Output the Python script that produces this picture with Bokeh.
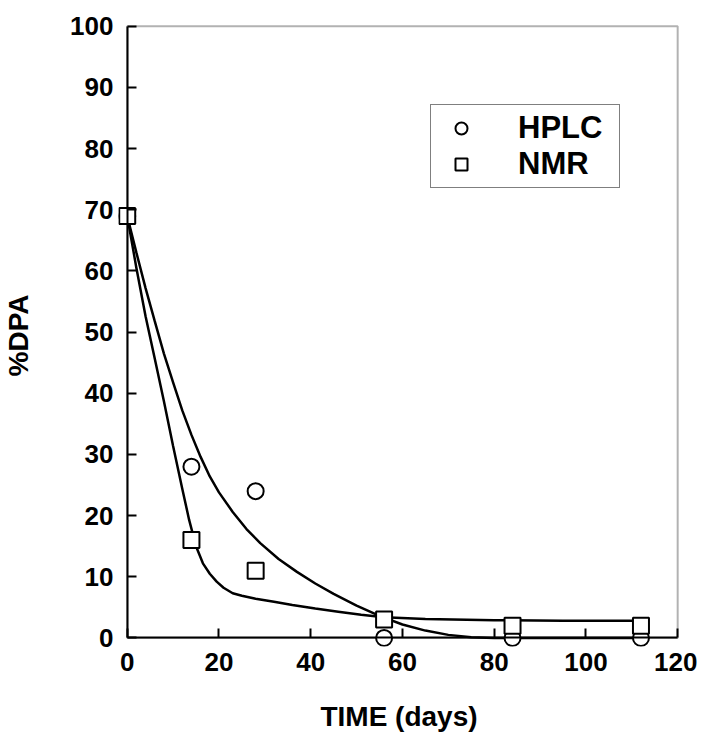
from bokeh.plotting import figure
from bokeh.models import Range1d, Legend, LegendItem, FixedTicker, BoxAnnotation, LinearAxis
from bokeh.embed import file_html
from bokeh.resources import INLINE

# Measured data points
time_days = [0, 14, 28, 56, 84, 112]
hplc_pct = [69, 28, 24, 0, 0, 0]
nmr_pct = [69, 16, 11, 3, 2, 2]

# Fitted curves
hplc_fit_x = [0, 2, 4, 6, 8, 10, 12, 14, 16, 18, 20, 23, 26, 29, 33, 37, 41, 45, 50, 55, 60, 65, 70, 75, 80, 112]
hplc_fit_y = [69, 63, 57.2, 51.8, 46.5, 41.8, 37.2, 33.2, 29.6, 26.4, 23.8, 20.6, 17.8, 15.5, 12.9, 10.8,
              8.9, 7.2, 5.3, 3.6, 2.2, 1.2, 0.5, 0.1, 0, 0]
nmr_fit_x = [0, 2, 4, 6, 8, 10, 12, 13.5, 15, 16.5, 18, 19.5, 21, 23, 25, 28, 32, 36, 41, 46, 51, 56, 65, 80, 95, 112]
nmr_fit_y = [69, 60.5, 52.6, 45.7, 38.7, 31.4, 24.4, 19.3, 15.0, 12.2, 10.5, 9.2, 8.2, 7.3, 6.9, 6.4,
             5.9, 5.4, 4.8, 4.3, 3.8, 3.4, 3.1, 2.9, 2.8, 2.8]

x_ticks = [0, 20, 40, 60, 80, 100, 120]
y_ticks = [0, 10, 20, 30, 40, 50, 60, 70, 80, 90, 100]
x_min, x_max = 0, 120
y_min, y_max = 0, 100

FONT = "Liberation Sans"

# ranges are padded slightly so markers sitting on the axes are not clipped
p = figure(width=697, height=734, output_backend="svg", toolbar_location=None,
           x_range=Range1d(-1.9, 120.4), y_range=Range1d(-1.4, 100.3),
           min_border_left=118, min_border_right=18, min_border_top=24, min_border_bottom=88,
           x_axis_label="TIME (days)", y_axis_label="%DPA")
p.grid.visible = False
p.background_fill_color = "white"
p.border_fill_color = "white"
p.outline_line_color = None

# plot frame (box from 0..120 x 0..100)
frame_box = BoxAnnotation(left=x_min, right=x_max, bottom=y_min, top=y_max,
                          fill_alpha=0, line_color="black", line_width=2, level="underlay")
p.add_layout(frame_box)

# label axes (at the frame edges): text only
p.xaxis.ticker = FixedTicker(ticks=x_ticks)
p.yaxis.ticker = FixedTicker(ticks=y_ticks)
for ax in (p.xaxis[0], p.yaxis[0]):
    ax.axis_line_color = None
    ax.major_tick_line_color = None
    ax.minor_tick_line_color = None
    ax.major_tick_in = 0
    ax.major_tick_out = 0
    ax.major_label_text_font = FONT
    ax.major_label_text_font_size = "26px"
    ax.major_label_text_font_style = "bold"
    ax.major_label_text_color = "black"
    ax.axis_label_text_font = FONT
    ax.axis_label_text_font_size = "28px"
    ax.axis_label_text_font_style = "bold"
    ax.axis_label_text_color = "black"
p.xaxis.major_label_standoff = 6
p.xaxis.axis_label_standoff = 27
p.yaxis.major_label_standoff = 5
p.yaxis.axis_label_standoff = 33

# tick axes crossing at zero: line + ticks pointing into the plot, no text
# (placed in the above/right panels, where there is spare room)
for side, bnds, tks in (("above", (x_min, x_max), x_ticks), ("right", (y_min, y_max), y_ticks)):
    tax = LinearAxis(fixed_location=0, bounds=bnds, ticker=FixedTicker(ticks=tks),
                     axis_line_width=2, axis_line_color="black",
                     major_tick_in=0, major_tick_out=9, major_tick_line_width=2,
                     major_tick_line_color="black", minor_tick_line_color=None,
                     major_label_text_font_size="1px", major_label_text_alpha=0,
                     major_label_standoff=0)
    p.add_layout(tax, side)

p.line(hplc_fit_x, hplc_fit_y, line_color="black", line_width=2.5)
p.line(nmr_fit_x, nmr_fit_y, line_color="black", line_width=2.5)

r_h = p.scatter(time_days, hplc_pct, marker="circle", size=16, line_color="black",
                line_width=2, fill_color="white")
r_n = p.scatter(time_days, nmr_pct, marker="square", size=16, line_color="black",
                line_width=2, fill_color="white")

legend = Legend(items=[LegendItem(label="HPLC", renderers=[r_h]),
                       LegendItem(label="NMR", renderers=[r_n])],
                location=(312, 458))
legend.label_text_font = FONT
legend.label_text_font_size = "31px"
legend.label_text_font_style = "bold"
legend.label_text_color = "black"
legend.border_line_color = "black"
legend.border_line_width = 1.5
legend.background_fill_alpha = 1
legend.padding = 5
legend.margin = 0
legend.spacing = 0
legend.glyph_width = 50
legend.glyph_height = 30
legend.label_height = 30
legend.label_width = 96
legend.label_standoff = 32
p.add_layout(legend, "center")

open("out.html", "w").write(file_html(p, INLINE))
